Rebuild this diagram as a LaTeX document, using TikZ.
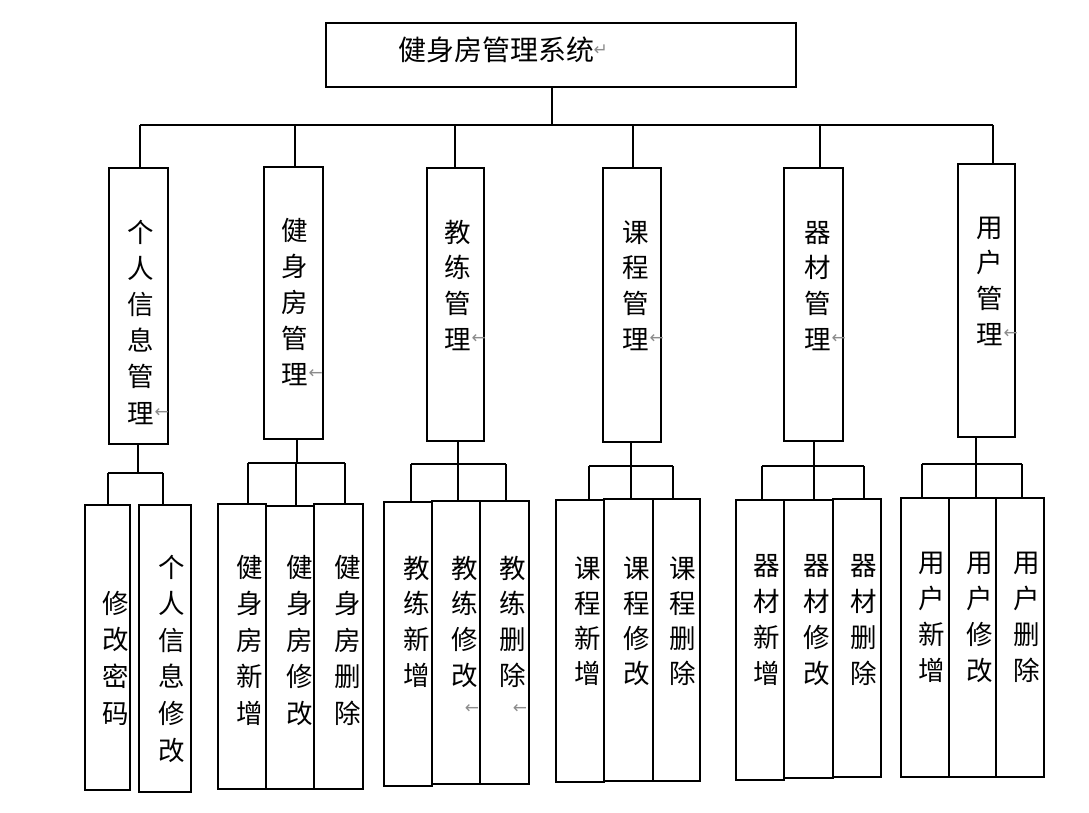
\documentclass[tikz,border=0pt]{standalone}
\usepackage{fontspec}
\newfontfamily\cjk{Noto Sans CJK SC}
\newfontfamily\symf{DejaVu Sans}
\tikzset{
  box/.style={draw, line width=1.7pt, inner sep=0pt, anchor=north west},
  ch/.style={inner sep=0pt, font=\cjk\fontsize{26.5}{26.5}\selectfont, text height=20.1pt, text depth=0pt},
  ttl/.style={inner sep=0pt, anchor=west, font=\cjk\fontsize{28}{28}\selectfont, text height=21.3pt, text depth=0pt},
  mk/.style={inner sep=0pt, font=\symf\fontsize{17}{17}\selectfont, text=black!45},
  conn/.style={line width=1.7pt}
}
\newcommand\bx[5]{\node[box, minimum width={(#4-#2)*1pt}, minimum height={(#5-#3)*1pt}] (#1) at (#2,#3) {};}
\newcommand\vt[5]{\foreach \c [count=\i] in {#5} {\node[ch] (#1-\i) at (#2,{#3+#4*(\i-1)}) {\c};}}
\begin{document}
\begin{tikzpicture}[x=1pt,y=-1pt]
\useasboundingbox (0,0) rectangle (1089,813);
% root
\bx{root}{325}{22}{795}{86}
\node[ttl] (title) at (398,50) {健身房管理系统};
\node[mk, anchor=west] (tmk) at ([xshift=-1pt]title.east) {↵};
% level 1 boxes
\bx{p1}{108}{167}{167}{443}
\bx{p2}{263}{166}{322}{438}
\bx{p3}{426}{167}{483}{440}
\bx{p4}{602}{167}{660}{441}
\bx{p5}{783}{167}{842}{440}
\bx{p6}{957}{163}{1014}{436}
\vt{t1}{141}{232}{36.2}{个,人,信,息,管,理}
\vt{t2}{295}{230}{36}{健,身,房,管,理}
\vt{t3}{458}{232}{35.7}{教,练,管,理}
\vt{t4}{636}{232}{35.7}{课,程,管,理}
\vt{t5}{818}{232}{35.7}{器,材,管,理}
\vt{t6}{990}{227}{35.7}{用,户,管,理}
\node[mk, anchor=west] (m1) at (t1-6.east) {←};
\node[mk, anchor=west] (m2) at (t2-5.east) {←};
\node[mk, anchor=west] (m3) at (t3-4.east) {←};
\node[mk, anchor=west] (m4) at (t4-4.east) {←};
\node[mk, anchor=west] (m5) at (t5-4.east) {←};
\node[mk, anchor=west] (m6) at (t6-4.east) {←};
% top connectors
\coordinate (rb) at (552,125);
\coordinate (busL) at (140,125);
\coordinate (busR) at (993,125);
\draw[conn] (rb |- root.south) -- (rb);
\draw[conn] (busL) -- (busR);
\coordinate (d1) at (140,125);
\coordinate (d2) at (295,125);
\coordinate (d3) at (455,125);
\coordinate (d4) at (633,125);
\coordinate (d5) at (820,125);
\coordinate (d6) at (993,125);
\foreach \k in {1,...,6} {\draw[conn] (d\k) -- (d\k |- p\k.north);}
% level 2 boxes
\bx{c11}{84}{504}{129}{789}
\bx{c12}{138}{504}{190}{791}
\bx{c21}{217}{503}{265}{788}
\bx{c22}{265}{505}{313}{788}
\bx{c23}{313}{503}{362}{788}
\bx{c31}{383}{501}{431}{785}
\bx{c32}{431}{500}{479}{783}
\bx{c33}{479}{500}{528}{783}
\bx{c41}{555}{499}{603}{781}
\bx{c42}{603}{498}{652}{780}
\bx{c43}{652}{498}{699}{780}
\bx{c51}{735}{499}{783}{779}
\bx{c52}{783}{499}{832}{777}
\bx{c53}{832}{498}{880}{776}
\bx{c61}{900}{497}{948}{776}
\bx{c62}{948}{497}{995}{776}
\bx{c63}{995}{497}{1043}{776}
% level 2 texts
\vt{s11}{116}{603}{36.7}{修,改,密,码}
\vt{s12}{172}{567}{36.6}{个,人,信,息,修,改}
\vt{s21}{250}{567}{36.5}{健,身,房,新,增}
\vt{s22}{300}{567}{36.5}{健,身,房,修,改}
\vt{s23}{348}{567}{36.5}{健,身,房,删,除}
\vt{s31}{417}{568}{35.7}{教,练,新,增}
\vt{s32}{465}{568}{35.7}{教,练,修,改}
\vt{s33}{513}{568}{35.7}{教,练,删,除}
\vt{s41}{588}{568}{35}{课,程,新,增}
\vt{s42}{637}{568}{35}{课,程,修,改}
\vt{s43}{683}{568}{35}{课,程,删,除}
\vt{s51}{767}{565}{36}{器,材,新,增}
\vt{s52}{817}{565}{36}{器,材,修,改}
\vt{s53}{864}{565}{36}{器,材,删,除}
\vt{s61}{932}{562}{36}{用,户,新,增}
\vt{s62}{980}{562}{36}{用,户,修,改}
\vt{s63}{1027}{562}{36}{用,户,删,除}
\node[mk] (n32) at (472,709) {←};
\node[mk] (n33) at (520,709) {←};
% group connectors
% g1
\coordinate (h1) at (138,473);
\coordinate (h1a) at (108,473);
\coordinate (h1b) at (163,473);
\draw[conn] (h1 |- p1.south) -- (h1);
\draw[conn] (h1a) -- (h1b);
\draw[conn] (h1a) -- (h1a |- c11.north);
\draw[conn] (h1b) -- (h1b |- c12.north);
% g2
\coordinate (h2) at (297,463);
\coordinate (h2a) at (248,463);
\coordinate (h2b) at (296,463);
\coordinate (h2c) at (345,463);
\draw[conn] (h2 |- p2.south) -- (h2);
\draw[conn] (h2a) -- (h2c);
\draw[conn] (h2a) -- (h2a |- c21.north);
\draw[conn] (h2b) -- (h2b |- c22.north);
\draw[conn] (h2c) -- (h2c |- c23.north);
% g3
\coordinate (h3) at (458,464);
\coordinate (h3a) at (411,464);
\coordinate (h3b) at (458,464);
\coordinate (h3c) at (506,464);
\draw[conn] (h3 |- p3.south) -- (h3);
\draw[conn] (h3a) -- (h3c);
\draw[conn] (h3a) -- (h3a |- c31.north);
\draw[conn] (h3b) -- (h3b |- c32.north);
\draw[conn] (h3c) -- (h3c |- c33.north);
% g4
\coordinate (h4) at (631,466);
\coordinate (h4a) at (589,466);
\coordinate (h4b) at (631,466);
\coordinate (h4c) at (673,466);
\draw[conn] (h4 |- p4.south) -- (h4);
\draw[conn] (h4a) -- (h4c);
\draw[conn] (h4a) -- (h4a |- c41.north);
\draw[conn] (h4b) -- (h4b |- c42.north);
\draw[conn] (h4c) -- (h4c |- c43.north);
% g5
\coordinate (h5) at (814,466);
\coordinate (h5a) at (762,466);
\coordinate (h5b) at (814,466);
\coordinate (h5c) at (864,466);
\draw[conn] (h5 |- p5.south) -- (h5);
\draw[conn] (h5a) -- (h5c);
\draw[conn] (h5a) -- (h5a |- c51.north);
\draw[conn] (h5b) -- (h5b |- c52.north);
\draw[conn] (h5c) -- (h5c |- c53.north);
% g6
\coordinate (h6) at (976,464);
\coordinate (h6a) at (922,464);
\coordinate (h6b) at (976,464);
\coordinate (h6c) at (1022,464);
\draw[conn] (h6 |- p6.south) -- (h6);
\draw[conn] (h6a) -- (h6c);
\draw[conn] (h6a) -- (h6a |- c61.north);
\draw[conn] (h6b) -- (h6b |- c62.north);
\draw[conn] (h6c) -- (h6c |- c63.north);
\end{tikzpicture}
\end{document}
